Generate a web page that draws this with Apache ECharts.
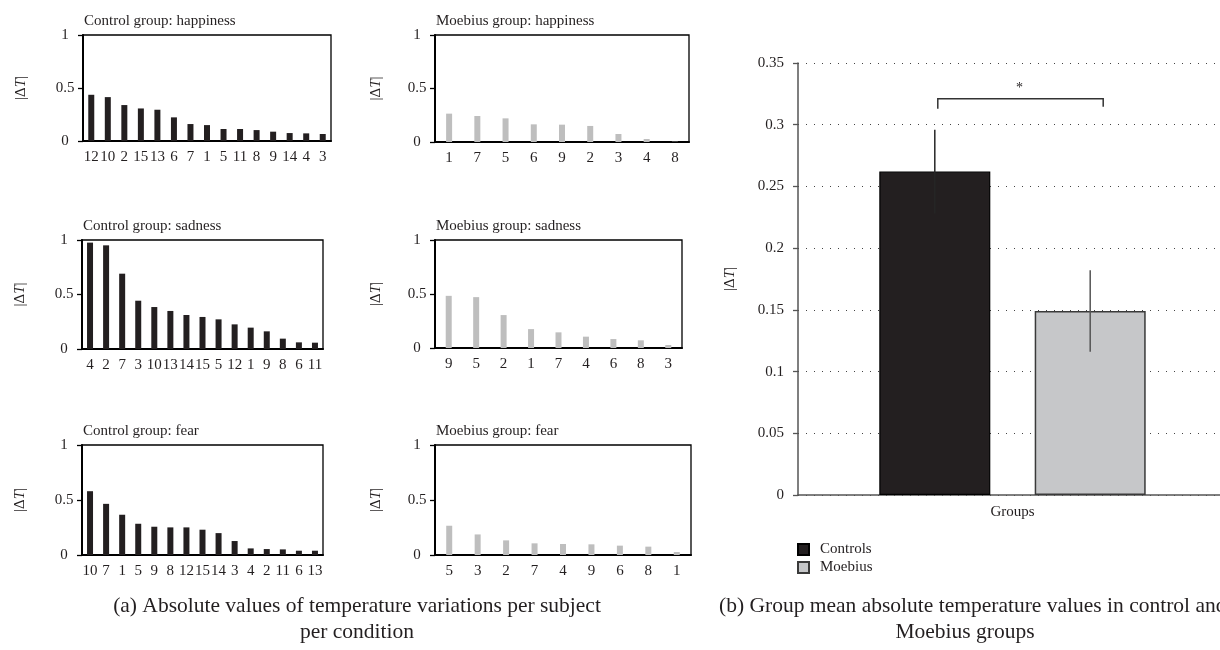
<!DOCTYPE html>
<html>
<head>
<meta charset="utf-8">
<script src="https://cdn.jsdelivr.net/npm/echarts@6/dist/echarts.min.js"></script>
<style>
  html, body { margin: 0; padding: 0; background: #fff; }
  #chart { width: 1220px; height: 650px; }
</style>
</head>
<body>
<div id="chart"></div>
<script>
// ---------- DATA ----------
const ctrlHappyCats = ['12','10','2','15','13','6','7','1','5','11','8','9','14','4','3'];
const ctrlHappyVals = [0.436,0.414,0.339,0.307,0.295,0.223,0.160,0.150,0.113,0.113,0.103,0.088,0.075,0.072,0.066];
const moebHappyCats = ['1','7','5','6','9','2','3','4','8'];
const moebHappyVals = [0.265,0.243,0.221,0.165,0.162,0.150,0.075,0.028,0.003];
const ctrlSadCats = ['4','2','7','3','10','13','14','15','5','12','1','9','8','6','11'];
const ctrlSadVals = [0.976,0.951,0.691,0.443,0.385,0.349,0.312,0.294,0.272,0.226,0.196,0.162,0.095,0.061,0.058];
const moebSadCats = ['9','5','2','1','7','4','6','8','3'];
const moebSadVals = [0.483,0.471,0.305,0.175,0.145,0.105,0.083,0.071,0.028];
const ctrlFearCats = ['10','7','1','5','9','8','12','15','14','3','4','2','11','6','13'];
const ctrlFearVals = [0.580,0.465,0.366,0.284,0.257,0.251,0.251,0.230,0.199,0.127,0.060,0.054,0.051,0.039,0.039];
const moebFearCats = ['5','3','2','7','4','9','6','8','1'];
const moebFearVals = [0.266,0.187,0.133,0.106,0.100,0.097,0.085,0.076,0.027];

const panelTitles = ['Control group: happiness','Moebius group: happiness','Control group: sadness','Moebius group: sadness','Control group: fear','Moebius group: fear'];

const groupCats = ['Groups'];
const groupNames = ['Controls','Moebius'];
const groupMeans = [0.262, 0.149];
const groupErrors = [0.034, 0.033];
const sigBracket = [0.321, 0.313]; // bracket top, leg bottom
const sigLabel = '*';

const captionA = ['(a) Absolute values of temperature variations per subject', 'per condition'];
const captionB = ['(b) Group mean absolute temperature values in control and', 'Moebius groups'];

// ---------- STYLE ----------
const FONT = '"Liberation Serif", "DejaVu Serif", serif';
const TXT = '#231f20';
const CTRL = '#231f20';
const MOEB_SMALL = '#bebebe';
const MOEB_BIG = '#c6c7c9';

const panels = [
  {cats: ctrlHappyCats, vals: ctrlHappyVals, color: CTRL, nameGap: 54, grid: {left: 83, top: 35, width: 248, height: 106}},
  {cats: moebHappyCats, vals: moebHappyVals, color: MOEB_SMALL, nameGap: 51, grid: {left: 435, top: 35, width: 254, height: 107}},
  {cats: ctrlSadCats, vals: ctrlSadVals, color: CTRL, nameGap: 54, grid: {left: 82, top: 240, width: 241, height: 109}},
  {cats: moebSadCats, vals: moebSadVals, color: MOEB_SMALL, nameGap: 51, grid: {left: 435, top: 240, width: 247, height: 108}},
  {cats: ctrlFearCats, vals: ctrlFearVals, color: CTRL, nameGap: 54, grid: {left: 82, top: 445, width: 241, height: 110}},
  {cats: moebFearCats, vals: moebFearVals, color: MOEB_SMALL, nameGap: 51, grid: {left: 435, top: 445, width: 256, height: 110}}
];

const yName = '|Δ{i|T}|';
const yNameStyle = {fontFamily: FONT, fontSize: 15, color: TXT, rich: {i: {fontFamily: FONT, fontSize: 15, fontStyle: 'italic', color: TXT}}};

const grids = [], xAxes = [], yAxes = [], series = [], titles = [];

panels.forEach((p, k) => {
  grids.push(Object.assign({show: true, borderColor: '#000', borderWidth: 1.3, backgroundColor: 'transparent', outerBoundsMode: 'none'}, p.grid));
  xAxes.push({
    type: 'category', gridIndex: k, data: p.cats,
    axisLine: {show: true, lineStyle: {color: '#000', width: 2}},
    axisTick: {show: false},
    axisLabel: {interval: 0, margin: 9, fontFamily: FONT, fontSize: 15, color: TXT}
  });
  yAxes.push({
    type: 'value', gridIndex: k, min: 0, max: 1, interval: 0.5,
    name: yName, nameLocation: 'middle', nameRotate: 90, nameGap: p.nameGap, nameTextStyle: yNameStyle,
    axisLine: {show: true, lineStyle: {color: '#000', width: 2}},
    axisTick: {show: true, length: 5, lineStyle: {color: '#000', width: 1.3}},
    axisLabel: {margin: 18, align: 'center', fontFamily: FONT, fontSize: 15, color: TXT},
    splitLine: {show: false}
  });
  series.push({
    type: 'bar', xAxisIndex: k, yAxisIndex: k, data: p.vals, barWidth: 6,
    itemStyle: {color: p.color}, silent: true
  });
  titles.push({
    text: panelTitles[k], left: p.grid.left - 4, top: p.grid.top - 26,
    textStyle: {fontFamily: FONT, fontSize: 15, fontWeight: 'normal', color: TXT}
  });
});

// ---------- big chart ----------
const G = 6;
const BAR_W = 111, BAR_GAP = 0.4;
const barOffset = (BAR_W + BAR_W * BAR_GAP) / 2;
grids.push({left: 798, top: 63, width: 429, bottom: 155, outerBoundsMode: 'none', containLabel: false});
xAxes.push({
  type: 'category', gridIndex: G, data: groupCats,
  axisLine: {show: true, lineStyle: {color: '#555', width: 1.5}},
  axisTick: {show: false},
  axisLabel: {margin: 10, fontFamily: FONT, fontSize: 15, color: TXT}
});
yAxes.push({
  type: 'value', gridIndex: G, min: 0, max: 0.35, interval: 0.05,
  name: yName, nameLocation: 'middle', nameRotate: 90, nameGap: 60, nameTextStyle: yNameStyle,
  axisLine: {show: true, lineStyle: {color: '#555', width: 1.5}},
  axisTick: {show: true, length: 5, lineStyle: {color: '#555', width: 1.3}},
  axisLabel: {margin: 14, fontFamily: FONT, fontSize: 15, color: TXT},
  splitLine: {show: true, lineStyle: {color: '#444', width: 1, type: [1, 7]}}
});
series.push({
  name: groupNames[0], type: 'bar', xAxisIndex: G, yAxisIndex: G, data: [groupMeans[0]],
  barWidth: BAR_W, barGap: (BAR_GAP * 100) + '%',
  itemStyle: {color: CTRL, borderColor: '#000', borderWidth: 1.2}
});
series.push({
  name: groupNames[1], type: 'bar', xAxisIndex: G, yAxisIndex: G, data: [groupMeans[1]],
  barWidth: BAR_W, barGap: (BAR_GAP * 100) + '%',
  itemStyle: {color: MOEB_BIG, borderColor: '#3a3a3a', borderWidth: 1.5}
});
const errColors = ['#262626', '#555555'];
series.push({
  type: 'custom', xAxisIndex: G, yAxisIndex: G, z: 5, silent: true,
  data: groupMeans.map((m, i) => [0, m, groupErrors[i], i]),
  renderItem: function (params, api) {
    const i = api.value(3);
    const c = api.coord([0, api.value(1)]);
    const x = c[0] + (i === 0 ? -1 : 1) * barOffset;
    const yt = api.coord([0, api.value(1) + api.value(2)])[1];
    const yb = api.coord([0, api.value(1) - api.value(2)])[1];
    return {type: 'line', shape: {x1: x, y1: yt, x2: x, y2: yb}, style: {stroke: errColors[i], lineWidth: 1.5}};
  }
});
series.push({
  type: 'custom', xAxisIndex: G, yAxisIndex: G, z: 5, silent: true,
  data: [[0, sigBracket[0], sigBracket[1]]],
  renderItem: function (params, api) {
    const c = api.coord([0, api.value(1)]);
    const yl = api.coord([0, api.value(2)])[1];
    const xl = c[0] - barOffset + 3;
    const xr = c[0] + barOffset + 13;
    return {type: 'group', children: [
      {type: 'polyline', shape: {points: [[xl, yl], [xl, c[1]], [xr, c[1]], [xr, yl - 2]]},
       style: {stroke: '#333', lineWidth: 1.5, fill: null}},
      {type: 'text', x: (xl + xr) / 2 - 1, y: c[1] - 10,
       style: {text: sigLabel, fontFamily: FONT, fontSize: 14, fill: TXT, align: 'center', verticalAlign: 'middle'}}
    ]};
  }
});

// captions
const capStyle = {fontFamily: FONT, fontSize: 21.5, fontWeight: 'normal', color: TXT};
titles.push({text: captionA[0], left: 352, top: 590, textAlign: 'center', textStyle: capStyle});
titles.push({text: captionA[1], left: 352, top: 616, textAlign: 'center', textStyle: capStyle});
titles.push({text: captionB[0], left: 714, top: 590, textStyle: capStyle});
titles.push({text: captionB[1], left: 960, top: 616, textAlign: 'center', textStyle: capStyle});

const chart = echarts.init(document.getElementById('chart'), null, {renderer: 'canvas'});
chart.setOption({
  animation: false,
  backgroundColor: '#fff',
  title: titles,
  legend: {
    data: groupNames, orient: 'vertical', left: 792, top: 537,
    itemWidth: 11, itemHeight: 11, itemGap: 3, icon: 'rect',
    textStyle: {fontFamily: FONT, fontSize: 15, color: TXT, padding: [0, 0, 0, 6]}
  },
  grid: grids,
  xAxis: xAxes,
  yAxis: yAxes,
  series: series
});
</script>
</body>
</html>
